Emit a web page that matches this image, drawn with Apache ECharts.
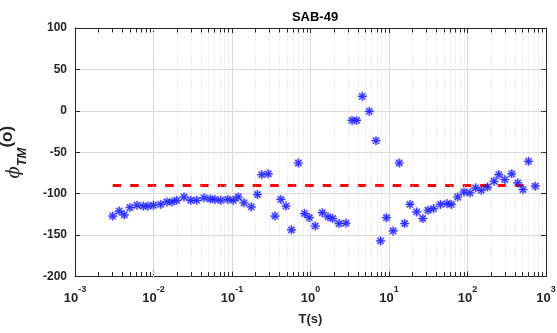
<!DOCTYPE html>
<html>
<head>
<meta charset="utf-8">
<script src="https://cdn.jsdelivr.net/npm/echarts@6/dist/echarts.min.js"></script>
<style>
  html, body { margin: 0; padding: 0; background: #fff; }
  #chart { width: 557px; height: 333px; }
</style>
</head>
<body>
<div id="chart"></div>
<script>
// Period (s) of each phase estimate
const periods = [
  0.00302, 0.00366, 0.00425, 0.00502, 0.00617, 0.00741, 0.00851, 0.0100, 0.01236, 0.01486,
  0.0172, 0.01975, 0.0245, 0.0298, 0.0355, 0.0440, 0.0530, 0.0607, 0.0718, 0.0881,
  0.104, 0.120, 0.142, 0.176, 0.211, 0.239, 0.290, 0.353, 0.419, 0.488,
  0.573, 0.700, 0.840, 0.966, 1.148, 1.413, 1.671, 1.918, 2.31, 2.83,
  3.38, 3.88, 4.57, 5.61, 6.83, 7.80, 9.29, 11.3, 13.5, 15.8,
  18.5, 22.5, 26.9, 31.4, 36.9, 45.3, 54.8, 62.5, 75.0, 90.2,
  107.6, 127, 150, 180, 218, 250, 298, 366, 436, 509,
  598, 731
];
// TM phase (degrees)
const phaseTM = [
  -127, -121, -125.5, -116.7, -114, -115, -115, -114, -113, -110,
  -110, -108, -104, -108, -108, -105, -106.5, -107, -108, -107,
  -108, -104, -111, -116, -101, -77, -76, -127, -107, -115,
  -143.6, -63, -124, -129, -139, -123, -128, -130, -136, -135.5,
  -11.6, -11.6, 17.4, -0.7, -36, -157, -129, -145, -63, -136,
  -113, -122, -130, -120, -118, -113, -112, -113, -104, -98,
  -99, -93, -96, -92, -85, -77, -83, -76, -87, -95,
  -61, -91
];
// Reference level drawn as a dashed line across the period band
const refLevel = -90;
const refSpan = [0.00302, 598];

// Axis ranges and ticks
const xMin = 0.001, xMax = 1000;
const yMin = -200, yMax = 100, yStep = 50;
const decadeExponents = [-3, -2, -1, 0, 1, 2];
const minorMultipliers = [2, 3, 4, 5, 6, 7, 8, 9];

const minorX = [];
decadeExponents.forEach(function (e) {
  minorMultipliers.forEach(function (m) { minorX.push(m * Math.pow(10, e)); });
});

const axisColor = '#262626';
const tickLen = 5.4; // in y units (~4.5 px)

const minorGrid = minorX.map(function (v) { return { xAxis: v }; });
const minorTicks = [];
minorX.forEach(function (v) {
  minorTicks.push([{ coord: [v, yMin] }, { coord: [v, yMin + tickLen] }]);
  minorTicks.push([{ coord: [v, yMax] }, { coord: [v, yMax - tickLen] }]);
});

// Matlab-like asterisk marker
const asterisk = 'path://M4.3,0L5.7,0L5.7,10L4.3,10Z' +
  'M0,4.3L10,4.3L10,5.7L0,5.7Z' +
  'M1.0,2.0L2.0,1.0L9.0,8.0L8.0,9.0Z' +
  'M8.0,1.0L9.0,2.0L2.0,9.0L1.0,8.0Z';

function logLabel(v) {
  const e = Math.round(Math.log10(v));
  return '{b|10}{e|' + e + '}';
}

const tickFont = { fontFamily: 'Liberation Sans', fontWeight: 'bold', color: axisColor };

const chart = echarts.init(document.getElementById('chart'), null, { renderer: 'canvas' });
chart.setOption({
  animation: false,
  backgroundColor: '#fff',
  title: {
    text: 'SAB-49',
    left: 310, top: 6, textAlign: 'center',
    textStyle: { fontFamily: 'Liberation Sans', fontWeight: 'bold', fontSize: 13, color: '#000' }
  },
  grid: { left: 75, right: 11, top: 28, bottom: 56.5, containLabel: false, outerBoundsMode: 'none' },
  xAxis: [{
    type: 'log', logBase: 10, min: xMin, max: xMax, splitNumber: 6,
    name: 'T(s)', nameLocation: 'middle', nameGap: 36,
    nameTextStyle: { fontFamily: 'Liberation Sans', fontWeight: 'bold', fontSize: 13, color: axisColor },
    axisLine: { show: true, onZero: false, lineStyle: { color: axisColor, width: 1 } },
    axisTick: { show: true, inside: true, length: 5, lineStyle: { color: axisColor } },
    minorTick: { show: false },
    splitLine: { show: true, lineStyle: { color: '#dcdcdc', width: 1.2 } },
    axisLabel: {
      margin: 9,
      formatter: logLabel,
      rich: {
        b: Object.assign({ fontSize: 13, lineHeight: 19, verticalAlign: 'bottom' }, tickFont),
        e: Object.assign({ fontSize: 9, lineHeight: 8, verticalAlign: 'top' }, tickFont)
      }
    }
  }, {
    type: 'log', logBase: 10, min: xMin, max: xMax, splitNumber: 6, position: 'top',
    axisLine: { show: true, onZero: false, lineStyle: { color: axisColor, width: 1 } },
    axisTick: { show: true, inside: true, length: 5, lineStyle: { color: axisColor } },
    axisLabel: { show: false },
    splitLine: { show: false }
  }],
  yAxis: [{
    type: 'value', min: yMin, max: yMax, interval: yStep,
    name: '{p|ϕ}{s|TM}{u|(o)}', nameLocation: 'middle', nameGap: 46,
    nameTextStyle: {
      rich: {
        p: { fontFamily: 'DejaVu Serif', fontStyle: 'italic', fontSize: 18, color: axisColor, lineHeight: 24, verticalAlign: 'middle' },
        s: { fontFamily: 'Liberation Sans', fontStyle: 'italic', fontWeight: 'bold', fontSize: 13, color: axisColor, lineHeight: 10, verticalAlign: 'bottom' },
        u: { fontFamily: 'Liberation Sans', fontWeight: 'bold', fontSize: 17, color: axisColor, lineHeight: 30, verticalAlign: 'top' }
      }
    },
    axisLine: { show: true, onZero: false, lineStyle: { color: axisColor, width: 1 } },
    axisTick: { show: true, inside: true, length: 5, lineStyle: { color: axisColor } },
    splitLine: { show: true, lineStyle: { color: '#dcdcdc', width: 1.2 } },
    axisLabel: Object.assign({ margin: 8, fontSize: 12 }, tickFont)
  }, {
    type: 'value', min: yMin, max: yMax, interval: yStep, position: 'right',
    axisLine: { show: true, onZero: false, lineStyle: { color: axisColor, width: 1 } },
    axisTick: { show: true, inside: true, length: 5, lineStyle: { color: axisColor } },
    axisLabel: { show: false },
    splitLine: { show: false }
  }],
  series: [{
    // minor grid lines and minor ticks on the log axis
    type: 'line', data: [], silent: true, z: 1,
    markLine: {
      silent: true, symbol: 'none', animation: false, label: { show: false },
      lineStyle: { color: '#d6d6d6', type: [1, 2], width: 1 },
      data: minorGrid
    }
  }, {
    type: 'line', data: [], silent: true, z: 3,
    markLine: {
      silent: true, symbol: 'none', animation: false, label: { show: false },
      lineStyle: { color: axisColor, type: 'solid', width: 1 },
      data: minorTicks
    }
  }, {
    type: 'line', silent: true, z: 4,
    data: [[refSpan[0], refLevel], [refSpan[1], refLevel]],
    showSymbol: false, symbol: 'none',
    lineStyle: { color: '#ff0000', width: 3, type: [8.5, 9] }
  }, {
    type: 'scatter', z: 5,
    data: periods.map(function (t, i) { return [t, phaseTM[i]]; }),
    symbol: asterisk, symbolSize: 8.5,
    itemStyle: { color: '#0000ff', borderColor: 'rgba(50,50,255,0.4)', borderWidth: 1.1 }
  }]
});
</script>
</body>
</html>
